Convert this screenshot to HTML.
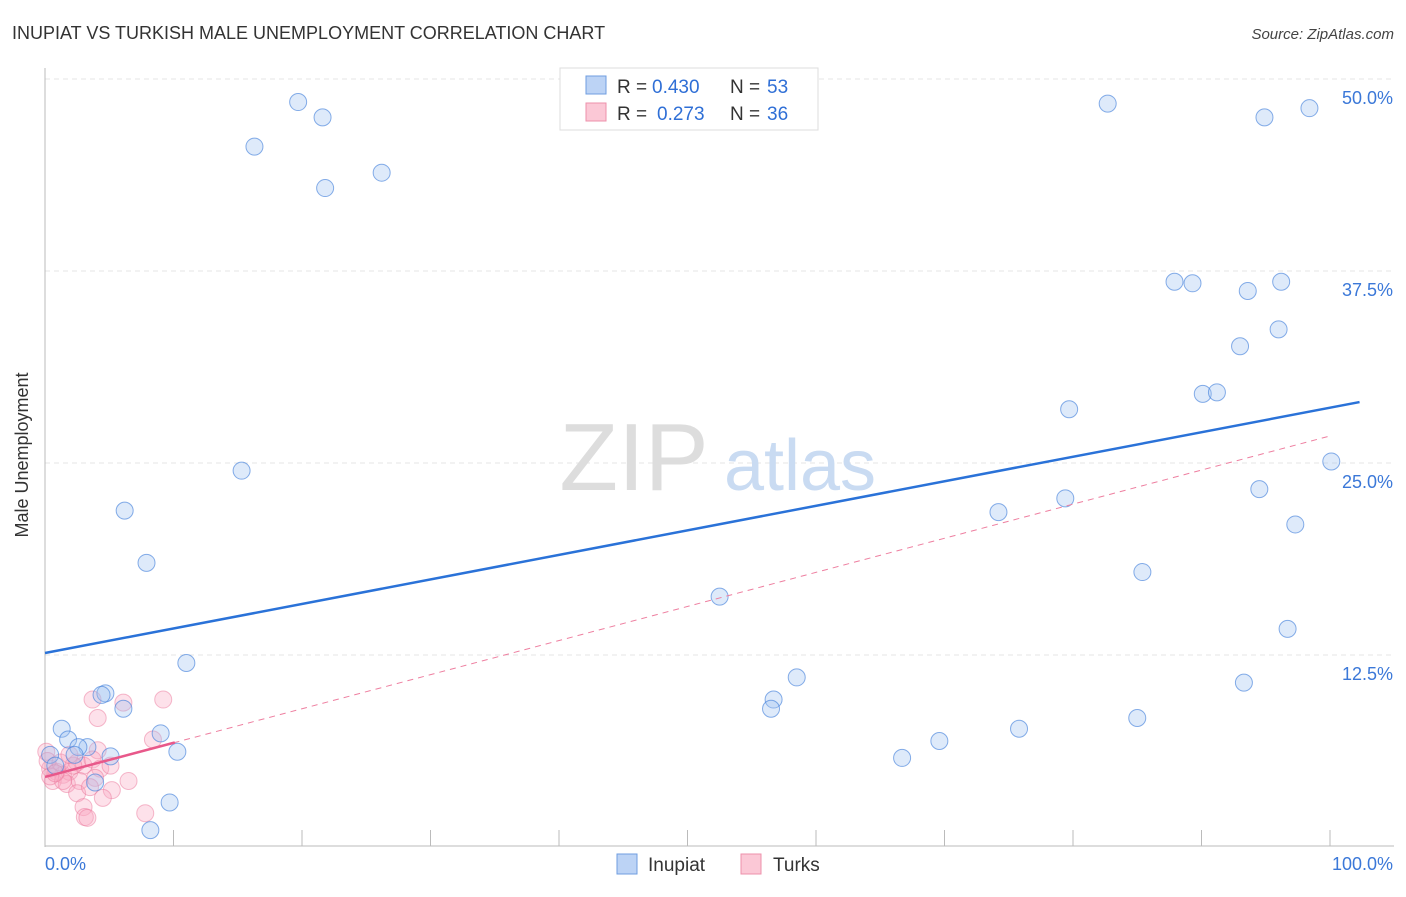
<!DOCTYPE html>
<html><head><meta charset="utf-8"><style>
body{margin:0;background:#fff;font-family:"Liberation Sans",sans-serif}
svg text{font-family:"Liberation Sans",sans-serif}
</style></head><body>
<svg width="1406" height="892" viewBox="0 0 1406 892">
<text x="12" y="39" font-size="18" fill="#333">INUPIAT VS TURKISH MALE UNEMPLOYMENT CORRELATION CHART</text>
<text x="1394" y="39" font-size="15" fill="#444" font-style="italic" text-anchor="end">Source: ZipAtlas.com</text>
<g id="grid"></g>
<text x="634" y="490" font-size="96" fill="#ddd" text-anchor="middle" font-family="Liberation Serif">ZIP</text>
<text x="800" y="490" font-size="72" fill="#c9dbf2" text-anchor="middle">atlas</text>
<g id="pts"></g>
<g id="trend"></g>
<text x="28" y="455" font-size="18" fill="#333" text-anchor="middle" transform="rotate(-90 28 455)">Male Unemployment</text>
<g>
<rect x="560" y="68" width="258" height="62" fill="#fff" stroke="#ddd"/>
<rect x="586" y="76" width="20" height="18" fill="#bcd3f5" stroke="#6f9ee0"/>
<rect x="586" y="103" width="20" height="18" fill="#fbc8d6" stroke="#ee90ab"/>
<text x="617" y="93" font-size="19" fill="#333">R =</text>
<text x="652" y="93" font-size="19" fill="#2f6fd6">0.430</text>
<text x="730" y="93" font-size="19" fill="#333">N =</text>
<text x="767" y="93" font-size="19" fill="#2f6fd6">53</text>
<text x="617" y="120" font-size="19" fill="#333">R =</text>
<text x="657" y="120" font-size="19" fill="#2f6fd6">0.273</text>
<text x="730" y="120" font-size="19" fill="#333">N =</text>
<text x="767" y="120" font-size="19" fill="#2f6fd6">36</text>
</g>
<g>
<rect x="617" y="854" width="20" height="20" fill="#bcd3f5" stroke="#6f9ee0"/>
<text x="648" y="871" font-size="19" fill="#333">Inupiat</text>
<rect x="741" y="854" width="20" height="20" fill="#fbc8d6" stroke="#ee90ab"/>
<text x="773" y="871" font-size="19" fill="#333">Turks</text>
</g>
</svg>
<script>
const blueX=[19.7,21.6,16.3,21.8,26.2,82.7,94.9,98.4,87.9,89.3,93.6,96.2,96,93,90.1,91.2,79.7,100.1,15.3,6.2,7.9,94.5,79.4,74.2,97.3,85.4,52.5,96.7,11,58.5,93.3,56.7,56.5,85,75.8,69.6,66.7,4.7,4.4,6.1,1.3,1.8,3.3,2.6,9,10.3,5.1,2.3,0.4,0.8,3.9,9.7,8.2];
const blueY=[48.5,47.5,45.6,42.9,43.9,48.4,47.5,48.1,36.8,36.7,36.2,36.8,33.7,32.6,29.5,29.6,28.5,25.1,24.5,21.9,18.5,23.3,22.7,21.8,21.0,17.9,16.3,14.2,11.98,11.04,10.7,9.6,9.0,8.4,7.7,6.9,5.8,10.0,9.9,9.0,7.7,7.0,6.5,6.5,7.4,6.2,5.9,6.0,6.0,5.3,4.2,2.9,1.1];
const pinkX=[3.7,6.1,9.2,4.1,8.4,4.1,0.1,0.4,0.9,1.4,1.9,2.5,3,3.7,4.3,0.6,1.7,2.7,3.9,5.1,6.5,5.2,4.5,2.5,3,3.1,7.8,3.3,0.2,1.2,2.2,1.4,3.5,0.4,1.9,0.8];
const pinkY=[9.6,9.4,9.6,8.4,7.0,6.3,6.2,5.1,4.9,4.7,4.9,5.5,5.3,5.7,5.1,4.3,4.1,4.3,4.5,5.3,4.3,3.7,3.2,3.5,2.6,1.95,2.2,1.9,5.6,5.5,5.3,4.3,3.9,4.6,6.0,4.8];
const yTicks=[12.5,25,37.5,50];
const blueTrend=[12.63,28.6],pinkTrend=[4.56,26.76];
const sx=v=>45+v*12.85, sy=v=>847-v*15.36;
const NS='http://www.w3.org/2000/svg';
function mk(t,a,p){const e=document.createElementNS(NS,t);for(const k in a)e.setAttribute(k,a[k]);p.appendChild(e);return e;}
const g=document.getElementById('grid');
yTicks.forEach(v=>{
 const l=mk('line',{x1:45,x2:1394,y1:sy(v),y2:sy(v),stroke:'#e4e4e4','stroke-dasharray':'5,4'},g);
 
 
 const t=mk('text',{x:1393,y:sy(v)+25,'font-size':18,fill:'#3b78d8','text-anchor':'end'},g);
 t.textContent=v.toFixed(1)+'%';
 
 
});
const ax=mk('line',{x1:45,x2:45,y1:68,y2:847,stroke:'#bbb'},g);


const bx=mk('line',{x1:45,x2:1394,y1:846,y2:846,stroke:'#bbb'},g);


for(let i=1;i<=10;i++){const t=mk('line',{x1:sx(i*10),x2:sx(i*10),y1:830,y2:846,stroke:'#bbb'},g);
 
 }
[['0.0%',45,'start'],['100.0%',1393,'end']].forEach(([s,x,a])=>{const t=mk('text',{x:x,y:870,'font-size':18,fill:'#3b78d8','text-anchor':a},g);t.textContent=s;
 
 });
const p=document.getElementById('pts');
pinkX.forEach((x,i)=>{const c=mk('circle',{cx:sx(x),cy:sy(pinkY[i]),r:8.5,fill:'rgba(248,170,195,0.35)',stroke:'rgba(235,120,155,0.5)','stroke-width':1},p);
 
 });
blueX.forEach((x,i)=>{const c=mk('circle',{cx:sx(x),cy:sy(blueY[i]),r:8.5,fill:'rgba(160,195,240,0.35)',stroke:'rgba(70,130,220,0.65)','stroke-width':1},p);
 
 });
const tr=document.getElementById('trend');
const pv=x=>pinkTrend[0]+(pinkTrend[1]-pinkTrend[0])*x/100;
const bv=x=>blueTrend[0]+(blueTrend[1]-blueTrend[0])*x/100;
const pd=mk('line',{x1:sx(10),y1:sy(pv(10)),x2:sx(100),y2:sy(pv(100)),stroke:'#ee7fa0','stroke-width':1,'stroke-dasharray':'6,5'},tr);


const ps=mk('line',{x1:sx(0),y1:sy(pv(0)),x2:sx(10.1),y2:sy(pv(10.1)),stroke:'#e8588a','stroke-width':2.5},tr);


const bl=mk('line',{x1:sx(0),y1:sy(bv(0)),x2:sx(102.3),y2:sy(bv(102.3)),stroke:'#2a72d8','stroke-width':2.5},tr);


</script>
</body></html>
